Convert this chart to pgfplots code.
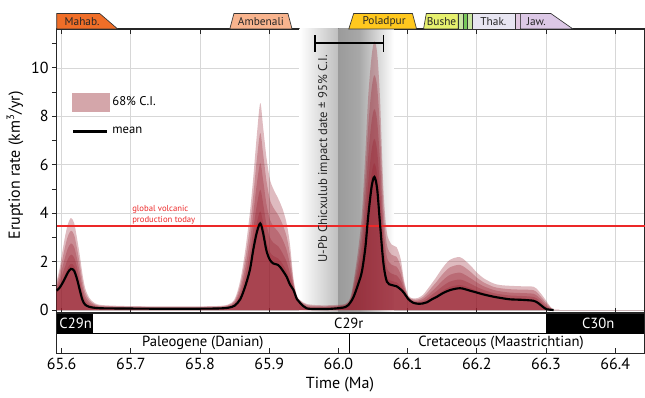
\documentclass[border=0pt]{standalone}
\usepackage{fontspec}
\setmainfont{PT Sans}
\usepackage{pgfplots}
\usepackage{pgfplotstable}
\pgfplotsset{compat=1.18}

\definecolor{band}{RGB}{150,30,45}
\definecolor{cipink}{RGB}{212,166,170}
\definecolor{vred}{RGB}{236,40,40}
\definecolor{gridc}{RGB}{215,215,215}
\definecolor{gcl}{RGB}{190,190,190}
\definecolor{gcd}{RGB}{155,155,155}
\definecolor{gcm}{RGB}{168,168,168}
\definecolor{tMah}{RGB}{240,110,40}
\definecolor{tAmb}{RGB}{248,180,142}
\definecolor{tPol}{RGB}{255,200,30}
\definecolor{tBus}{RGB}{230,240,110}
\definecolor{tGl}{RGB}{200,230,160}
\definecolor{tGd}{RGB}{120,200,90}
\definecolor{tTha}{RGB}{232,230,242}
\definecolor{tStr}{RGB}{225,200,225}
\definecolor{tJaw}{RGB}{220,200,230}

\pgfplotstableread{
x m e1 e2 e3 e4 e5
65.5928 0.80 1.20 1.10 1.00 0.91 0.84
65.597 0.92 1.70 1.51 1.31 1.14 1.00
65.601 1.10 2.40 2.08 1.75 1.46 1.23
65.605 1.32 3.05 2.62 2.19 1.80 1.49
65.609 1.55 3.55 3.05 2.55 2.11 1.75
65.6135 1.70 3.80 3.28 2.75 2.29 1.91
65.618 1.62 3.60 3.11 2.61 2.17 1.82
65.622 1.30 3.00 2.58 2.15 1.78 1.47
65.626 0.85 2.30 1.94 1.58 1.26 1.00
65.630 0.42 1.50 1.23 0.96 0.72 0.53
65.634 0.22 0.90 0.73 0.56 0.41 0.29
65.640 0.13 0.50 0.41 0.32 0.23 0.17
65.648 0.09 0.28 0.23 0.19 0.14 0.11
65.660 0.07 0.20 0.17 0.14 0.11 0.08
65.700 0.06 0.16 0.14 0.11 0.09 0.07
65.760 0.05 0.15 0.13 0.10 0.08 0.06
65.820 0.06 0.16 0.14 0.11 0.09 0.07
65.840 0.09 0.22 0.19 0.16 0.13 0.10
65.850 0.18 0.45 0.38 0.32 0.26 0.21
65.858 0.44 1.20 1.01 0.82 0.65 0.52
65.865 0.95 2.40 2.04 1.68 1.36 1.10
65.872 1.65 4.00 3.41 2.83 2.31 1.89
65.877 2.50 5.50 4.75 4.00 3.34 2.80
65.882 3.20 7.20 6.20 5.20 4.32 3.60
65.887 3.58 8.55 7.31 6.07 4.97 4.08
65.891 3.20 7.60 6.50 5.40 4.43 3.64
65.896 2.45 6.30 5.34 4.38 3.53 2.84
65.901 2.07 5.40 4.57 3.74 3.00 2.40
65.906 1.92 5.00 4.23 3.46 2.78 2.23
65.913 1.86 4.60 3.92 3.23 2.63 2.13
65.919 1.65 4.20 3.56 2.93 2.36 1.91
65.925 1.38 3.60 3.05 2.49 2.00 1.60
65.930 1.05 2.70 2.29 1.88 1.51 1.22
65.935 0.83 1.30 1.18 1.07 0.96 0.88
65.940 0.45 0.60 0.56 0.53 0.49 0.47
65.945 0.28 0.40 0.37 0.34 0.31 0.29
65.954 0.07 0.25 0.21 0.16 0.12 0.09
65.970 0.04 0.20 0.16 0.12 0.08 0.06
65.990 0.05 0.20 0.16 0.13 0.09 0.07
66.010 0.12 0.25 0.22 0.19 0.16 0.13
66.017 0.30 0.50 0.45 0.40 0.36 0.32
66.022 0.55 1.20 1.04 0.88 0.73 0.62
66.029 1.10 2.60 2.23 1.85 1.52 1.25
66.034 1.60 4.00 3.40 2.80 2.27 1.84
66.039 2.60 6.50 5.53 4.55 3.69 2.99
66.043 3.86 8.80 7.57 6.33 5.24 4.35
66.048 5.10 10.50 9.15 7.80 6.61 5.64
66.052 5.50 11.10 9.70 8.30 7.07 6.06
66.056 5.00 10.60 9.20 7.80 6.57 5.56
66.060 3.60 8.80 7.50 6.20 5.06 4.12
66.065 1.94 5.00 4.24 3.47 2.80 2.25
66.070 1.17 3.20 2.69 2.19 1.74 1.37
66.077 1.03 2.70 2.28 1.87 1.50 1.20
66.084 0.98 2.60 2.20 1.79 1.43 1.14
66.090 0.85 2.10 1.79 1.48 1.20 0.98
66.095 0.70 1.20 1.08 0.95 0.84 0.75
66.101 0.45 0.60 0.56 0.53 0.49 0.47
66.108 0.30 0.48 0.44 0.39 0.35 0.32
66.115 0.26 0.50 0.44 0.38 0.33 0.28
66.122 0.27 0.62 0.53 0.45 0.37 0.31
66.128 0.32 0.83 0.70 0.58 0.46 0.37
66.135 0.44 1.10 0.94 0.77 0.63 0.51
66.142 0.54 1.38 1.17 0.96 0.78 0.62
66.150 0.68 1.72 1.46 1.20 0.97 0.78
66.161 0.82 2.07 1.76 1.45 1.17 0.95
66.176 0.90 2.18 1.86 1.54 1.26 1.03
66.190 0.80 1.86 1.60 1.33 1.10 0.91
66.200 0.72 1.55 1.34 1.14 0.95 0.80
66.210 0.64 1.31 1.14 0.98 0.83 0.71
66.224 0.55 1.10 0.96 0.83 0.70 0.61
66.234 0.50 1.03 0.90 0.77 0.65 0.55
66.248 0.44 1.00 0.86 0.72 0.60 0.50
66.265 0.42 0.98 0.84 0.70 0.58 0.48
66.282 0.38 0.96 0.82 0.67 0.54 0.44
66.289 0.28 0.80 0.67 0.54 0.43 0.33
66.296 0.12 0.55 0.44 0.34 0.24 0.16
66.301 0.03 0.35 0.27 0.19 0.12 0.06
66.306 0.01 0.15 0.12 0.08 0.05 0.02
66.311 0.00 0.02 0.02 0.01 0.01 0.00
66.320 0.00 0.00 0.00 0.00 0.00 0.00
66.443 0.00 0.00 0.00 0.00 0.00 0.00
}\data

\begin{document}
\begin{tikzpicture}[x=1pt,y=1pt]
\useasboundingbox (0,0) rectangle (483.75,297.75);

% ---------------- main axis ----------------
\begin{axis}[
  at={(42.5pt,63pt)}, anchor=south west,
  scale only axis, width=441.2pt, height=213pt,
  xmin=65.5928, xmax=66.443, ymin=-0.124, ymax=11.61,
  clip=false,
  axis line style={black!85, line width=0.8pt},
  xtick={65.6,65.7,65.8,65.9,66.0,66.1,66.2,66.3,66.4},
  xticklabel=\empty,
  ytick={0,2,4,6,8,10}, minor ytick={1,3,5,7,9,11},
  grid=major,
  major grid style={gridc, line width=0.6pt},
  tick align=inside, xtick pos=both, ytick pos=left,
  major tick length=3.5pt, minor tick length=3.5pt,
  tick style={black!85, line width=0.7pt},
  y tick style={xshift=-3.5pt},
  yticklabel style={font=\fontsize{12}{14}\selectfont, xshift=-2.5pt},
  /pgf/number format/assume math mode=true,
  ylabel={Eruption rate (km\textsuperscript{3}/yr)},
  ylabel style={font=\fontsize{12}{14}\selectfont, at={(axis description cs:-0.0709,0.52)}, anchor=center},
  legend style={at={(axis cs:65.6091,9.10)}, anchor=north west, draw=none, fill=none,
    font=\fontsize{9.5}{11}\selectfont, row sep=10pt},
  legend cell align=left,
]
% Chicxulub gray band
\fill[left color=white, right color=gcl] (axis cs:65.944,-0.124) rectangle (axis cs:66.0,11.61);
\fill[left color=gcd, right color=gcm] (axis cs:66.0,-0.124) rectangle (axis cs:66.03,11.61);
\fill[left color=gcm, right color=white] (axis cs:66.03,-0.124) rectangle (axis cs:66.08,11.61);

% ensemble bands
\addplot[draw=none, fill=band, fill opacity=0.3, smooth, forget plot] table[x=x,y=e1]{\data} \closedcycle;
\addplot[draw=none, fill=band, fill opacity=0.3, smooth, forget plot] table[x=x,y=e2]{\data} \closedcycle;
\addplot[draw=none, fill=band, fill opacity=0.3, smooth, forget plot] table[x=x,y=e3]{\data} \closedcycle;
\addplot[draw=none, fill=band, fill opacity=0.3, smooth, forget plot] table[x=x,y=e4]{\data} \closedcycle;
\addplot[draw=none, fill=band, fill opacity=0.3, smooth, forget plot] table[x=x,y=e5]{\data} \closedcycle;

% global volcanic production today
\addplot[vred, line width=1.1pt, forget plot] coordinates {(65.5928,3.47) (66.443,3.47)};
\node[anchor=south west, inner sep=0pt, align=left, text=vred, font=\fontsize{6.5}{8}\selectfont]
  at (axis cs:65.7017,3.55) {global volcanic\\production today};

% mean
\addplot[black, line width=1.6pt, smooth, forget plot, restrict x to domain=65.5:66.312] table[x=x,y=m]{\data};

% impact date error bar (66.016 +- 0.049 Ma)
\addplot[black, line width=1.2pt, forget plot] coordinates {(65.9665,11.02) (66.0651,11.02)};
\addplot[black, line width=1.2pt, forget plot] coordinates {(65.9665,10.67) (65.9665,11.36)};
\addplot[black, line width=1.2pt, forget plot] coordinates {(66.0651,10.67) (66.0651,11.36)};

\node[rotate=90, font=\fontsize{9.5}{11}\selectfont, text=black!85]
  at (axis cs:65.979,6.24) {U-Pb Chicxulub impact date ± 95\% C.I.};

% formation tabs
\filldraw[fill=tMah, draw=black!80, line width=0.5pt] (axis cs:65.5928,11.61) -- (axis cs:65.5928,12.25) -- (axis cs:65.655,12.25) -- (axis cs:65.681,11.61) -- cycle;
\filldraw[fill=tAmb, draw=black!80, line width=0.5pt] (axis cs:65.843,11.61) -- (axis cs:65.849,12.25) -- (axis cs:65.927,12.25) -- (axis cs:65.933,11.61) -- cycle;
\filldraw[fill=tPol, draw=black!80, line width=0.5pt] (axis cs:66.015,11.61) -- (axis cs:66.022,12.25) -- (axis cs:66.107,12.25) -- (axis cs:66.113,11.61) -- cycle;
\filldraw[fill=tBus, draw=black!80, line width=0.5pt] (axis cs:66.123,11.61) -- (axis cs:66.127,12.25) -- (axis cs:66.173,12.25) -- (axis cs:66.173,11.61) -- cycle;
\filldraw[fill=tGl, draw=black!80, line width=0.5pt] (axis cs:66.173,11.61) rectangle (axis cs:66.181,12.25);
\filldraw[fill=tGd, draw=black!80, line width=0.5pt] (axis cs:66.181,11.61) rectangle (axis cs:66.186,12.25);
\filldraw[fill=tGl, draw=black!80, line width=0.5pt] (axis cs:66.186,11.61) rectangle (axis cs:66.193,12.25);
\filldraw[fill=tTha, draw=black!80, line width=0.5pt] (axis cs:66.193,11.61) rectangle (axis cs:66.255,12.25);
\filldraw[fill=tStr, draw=black!80, line width=0.5pt] (axis cs:66.255,11.61) rectangle (axis cs:66.263,12.25);
\filldraw[fill=tJaw, draw=black!80, line width=0.5pt] (axis cs:66.263,11.61) -- (axis cs:66.263,12.25) -- (axis cs:66.307,12.25) -- (axis cs:66.339,11.61) -- cycle;
\begin{scope}[font=\fontsize{8.5}{9}\selectfont, text=black!85]
\node[anchor=west, inner sep=0pt] at (axis cs:65.604,11.93) {Mahab.};
\node at (axis cs:65.888,11.93) {Ambenali};
\node at (axis cs:66.066,11.93) {Poladpur};
\node at (axis cs:66.149,11.93) {Bushe};
\node at (axis cs:66.224,11.93) {Thak.};
\node at (axis cs:66.286,11.93) {Jaw.};
\end{scope}

% legend
\addlegendimage{legend image code/.code={\fill[cipink] (0pt,-6.75pt) rectangle (27.75pt,6.75pt);}}
\addlegendentry{68\% C.I.}
\addlegendimage{legend image code/.code={\draw[black, line width=1.8pt] (0.75pt,0pt) -- (26.25pt,0pt);}}
\addlegendentry{mean}
\end{axis}

% ---------------- bars axis ----------------
\begin{axis}[
  at={(42.5pt,32.8pt)}, anchor=south west,
  scale only axis, width=441.2pt, height=30.2pt,
  xmin=65.5928, xmax=66.443, ymin=0, ymax=2,
  axis on top, clip=false,
  axis line style={black!85, line width=0.8pt},
  xtick={65.6,65.7,65.8,65.9,66.0,66.1,66.2,66.3,66.4},
  ytick=\empty,
  tick align=inside, xtick pos=bottom,
  major tick length=4pt,
  tick style={black!85, line width=0.7pt},
  xticklabel style={font=\fontsize{12}{14}\selectfont, /pgf/number format/.cd, fixed, fixed zerofill, precision=1},
  /pgf/number format/assume math mode=true,
  xlabel={Time (Ma)},
  xlabel style={font=\fontsize{12}{14}\selectfont, at={(axis description cs:0.4816,0)}, anchor=center, yshift=-23.8pt},
]
\fill[black] (axis cs:65.5928,1) rectangle (axis cs:65.644,2);
\filldraw[fill=white, draw=black, line width=0.8pt] (axis cs:65.644,1) rectangle (axis cs:66.301,2);
\fill[black] (axis cs:66.301,1) rectangle (axis cs:66.443,2);
\draw[black, line width=0.8pt] (axis cs:65.5928,1) -- (axis cs:66.443,1);
\draw[black, line width=0.8pt] (axis cs:66.016,0) -- (axis cs:66.016,1);
\begin{scope}[font=\fontsize{11}{13}\selectfont]
\node[anchor=west, text=white, inner sep=0pt] at (axis cs:65.5965,1.5) {C29n};
\node at (axis cs:66.015,1.5) {C29r};
\node[text=white] at (axis cs:66.3756,1.5) {C30n};
\node at (axis cs:65.804,0.5) {Paleogene (Danian)};
\node at (axis cs:66.235,0.5) {Cretaceous (Maastrichtian)};
\end{scope}
\end{axis}
\end{tikzpicture}
\end{document}
